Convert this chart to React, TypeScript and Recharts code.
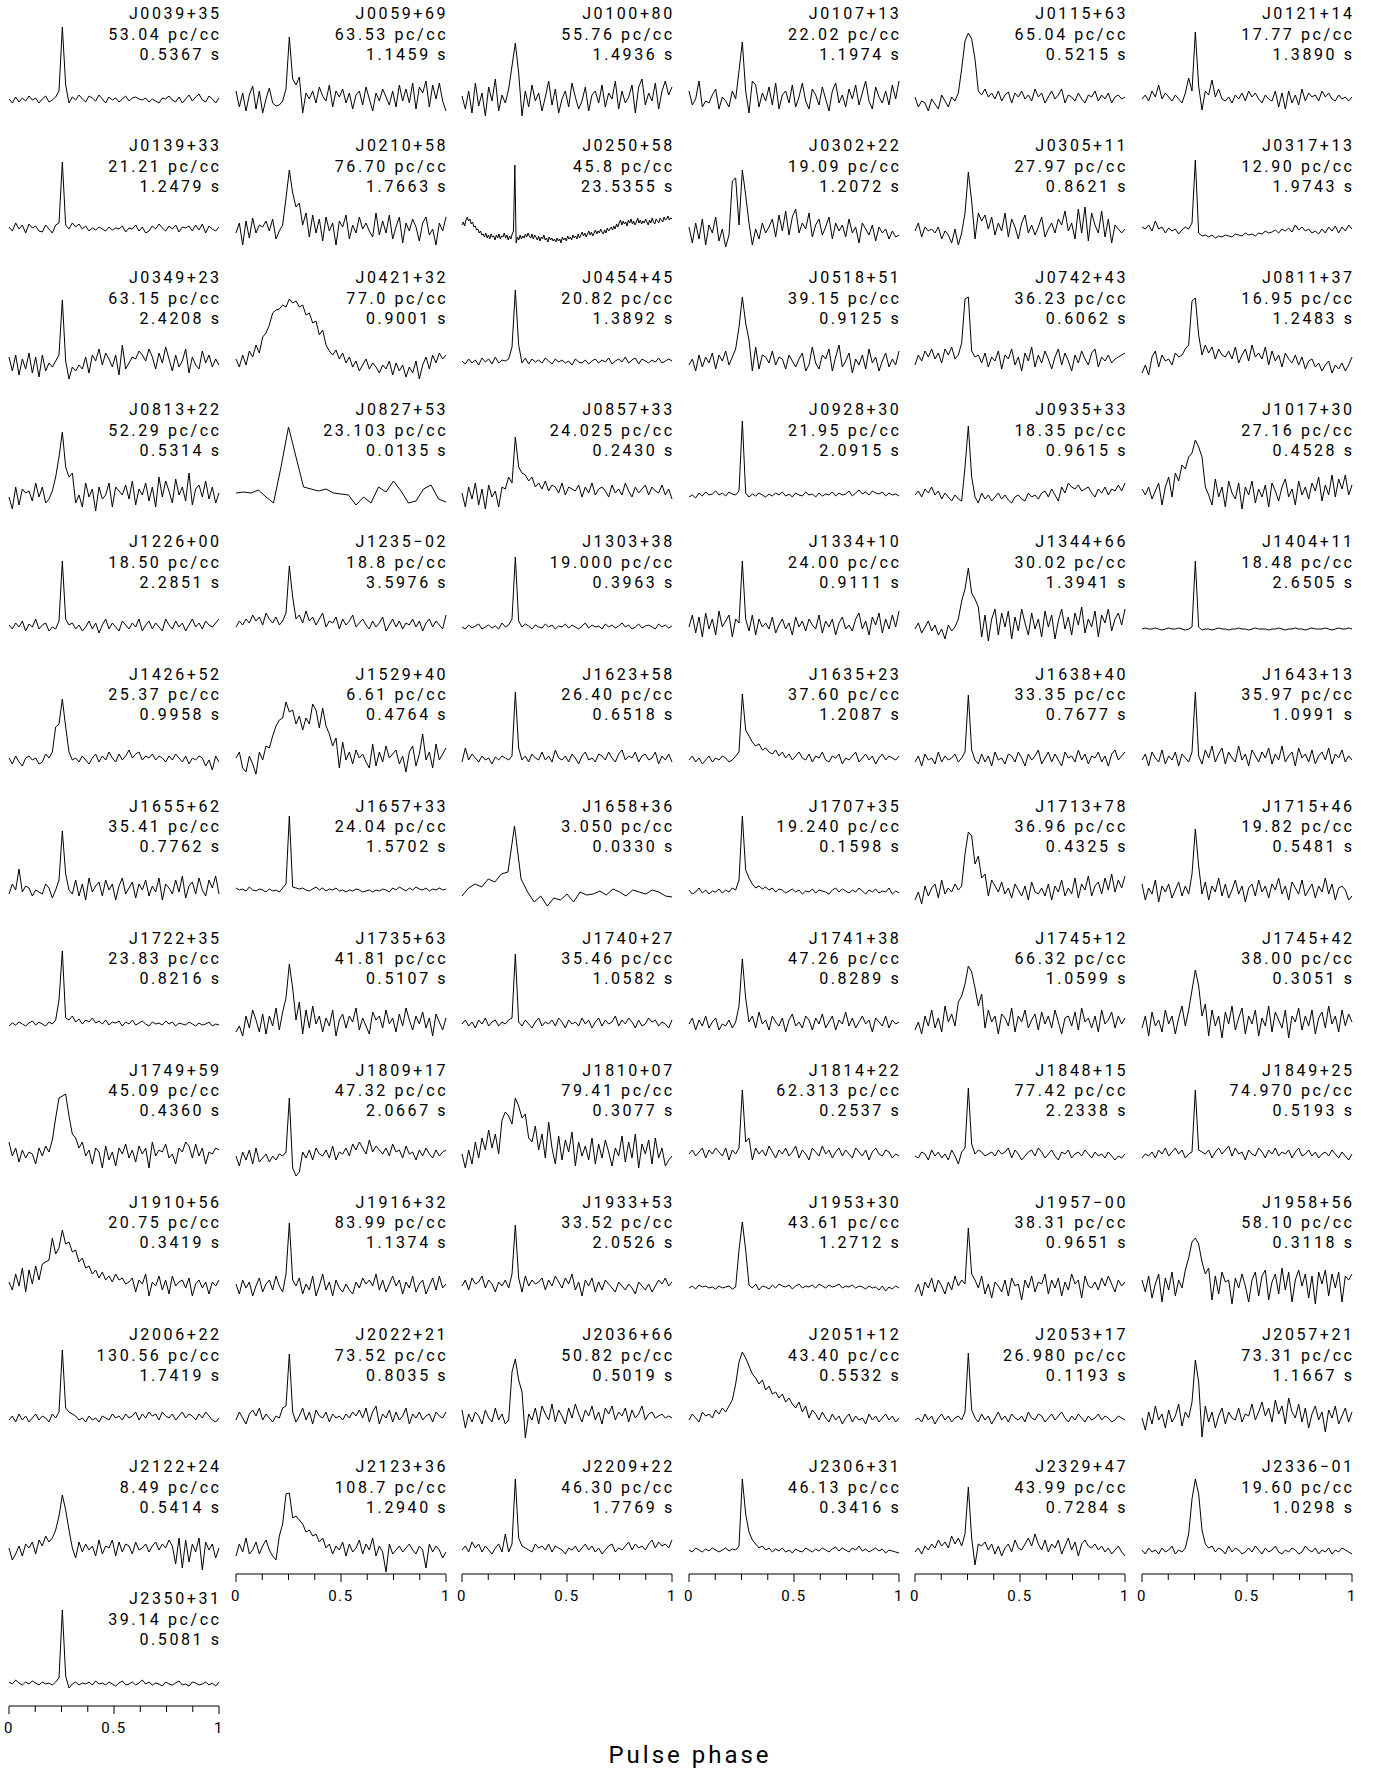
import { LineChart, Line, XAxis, YAxis } from 'recharts';

// pulsar labels, row by row (6 per row)
const names = [
  'J0039+35', 'J0059+69', 'J0100+80', 'J0107+13', 'J0115+63', 'J0121+14',
  'J0139+33', 'J0210+58', 'J0250+58', 'J0302+22', 'J0305+11', 'J0317+13',
  'J0349+23', 'J0421+32', 'J0454+45', 'J0518+51', 'J0742+43', 'J0811+37',
  'J0813+22', 'J0827+53', 'J0857+33', 'J0928+30', 'J0935+33', 'J1017+30',
  'J1226+00', 'J1235\u221202', 'J1303+38', 'J1334+10', 'J1344+66', 'J1404+11',
  'J1426+52', 'J1529+40', 'J1623+58', 'J1635+23', 'J1638+40', 'J1643+13',
  'J1655+62', 'J1657+33', 'J1658+36', 'J1707+35', 'J1713+78', 'J1715+46',
  'J1722+35', 'J1735+63', 'J1740+27', 'J1741+38', 'J1745+12', 'J1745+42',
  'J1749+59', 'J1809+17', 'J1810+07', 'J1814+22', 'J1848+15', 'J1849+25',
  'J1910+56', 'J1916+32', 'J1933+53', 'J1953+30', 'J1957\u221200', 'J1958+56',
  'J2006+22', 'J2022+21', 'J2036+66', 'J2051+12', 'J2053+17', 'J2057+21',
  'J2122+24', 'J2123+36', 'J2209+22', 'J2306+31', 'J2329+47', 'J2336\u221201',
  'J2350+31',
];

const dms = [
  '53.04', '63.53', '55.76', '22.02', '65.04', '17.77',
  '21.21', '76.70', '45.8', '19.09', '27.97', '12.90',
  '63.15', '77.0', '20.82', '39.15', '36.23', '16.95',
  '52.29', '23.103', '24.025', '21.95', '18.35', '27.16',
  '18.50', '18.8', '19.000', '24.00', '30.02', '18.48',
  '25.37', '6.61', '26.40', '37.60', '33.35', '35.97',
  '35.41', '24.04', '3.050', '19.240', '36.96', '19.82',
  '23.83', '41.81', '35.46', '47.26', '66.32', '38.00',
  '45.09', '47.32', '79.41', '62.313', '77.42', '74.970',
  '20.75', '83.99', '33.52', '43.61', '38.31', '58.10',
  '130.56', '73.52', '50.82', '43.40', '26.980', '73.31',
  '8.49', '108.7', '46.30', '46.13', '43.99', '19.60',
  '39.14',
];

const periods = [
  '0.5367', '1.1459', '1.4936', '1.1974', '0.5215', '1.3890',
  '1.2479', '1.7663', '23.5355', '1.2072', '0.8621', '1.9743',
  '2.4208', '0.9001', '1.3892', '0.9125', '0.6062', '1.2483',
  '0.5314', '0.0135', '0.2430', '2.0915', '0.9615', '0.4528',
  '2.2851', '3.5976', '0.3963', '0.9111', '1.3941', '2.6505',
  '0.9958', '0.4764', '0.6518', '1.2087', '0.7677', '1.0991',
  '0.7762', '1.5702', '0.0330', '0.1598', '0.4325', '0.5481',
  '0.8216', '0.5107', '1.0582', '0.8289', '1.0599', '0.3051',
  '0.4360', '2.0667', '0.3077', '0.2537', '2.2338', '0.5193',
  '0.3419', '1.1374', '2.0526', '1.2712', '0.9651', '0.3118',
  '1.7419', '0.8035', '0.5019', '0.5532', '0.1193', '1.1667',
  '0.5414', '1.2940', '1.7769', '0.3416', '0.7284', '1.0298',
  '0.5081',
];

// profile intensities per phase bin (arbitrary units, 0..100)
const pJ0039p35 = [22,18,24,19,23,20,25,21,23,18,22,25,19,21,24,30,94,36,18,24,21,26,22,19,25,23,20,26,22,18,24,21,23,19,22,25,20,23,24,22,21,23,19,22,20,18,23,22,25,21,19,24,18,22,26,20,24,27,21,19,25,22,18,23];
const pJ0059p69 = [30,14,28,10,26,35,12,30,8,22,33,18,15,16,20,32,84,42,36,44,8,28,22,30,18,34,25,20,36,14,30,24,32,18,28,12,26,30,16,34,22,10,28,20,32,24,16,30,14,36,20,32,18,38,12,34,28,40,14,36,22,38,20,10];
const pJ0100p80 = [25,12,30,8,38,15,28,5,34,20,42,10,26,18,32,55,78,48,5,30,14,36,20,28,10,24,40,16,32,8,22,30,14,38,24,12,20,34,10,26,30,18,36,14,28,22,40,12,30,18,24,36,8,34,42,16,28,20,38,12,30,40,26,34];
const pJ0107p13 = [30,16,22,40,14,20,18,26,32,12,24,20,14,30,22,50,79,30,8,40,36,14,28,20,34,16,38,12,26,30,18,36,14,24,38,20,12,32,26,16,34,22,10,30,38,18,26,14,32,22,36,16,28,40,20,12,34,24,18,30,16,36,22,40];
const pJ0115p63 = [24,14,20,18,10,22,17,12,26,20,14,24,20,28,52,80,88,82,62,30,26,32,24,28,22,30,20,26,29,18,28,24,30,22,26,20,32,24,28,18,24,30,22,26,32,18,26,24,20,28,22,18,26,24,30,20,26,22,28,18,24,26,22,24];
const pJ0121p14 = [22,26,20,30,24,36,22,28,24,20,26,22,18,28,43,30,89,35,11,30,26,41,24,32,22,20,24,18,26,22,28,20,30,24,28,22,18,26,22,20,30,14,28,12,30,18,26,16,32,20,28,24,26,20,30,24,28,22,20,26,22,24,20,24];
const pJ0139p33 = [26,22,30,24,28,20,29,25,27,22,21,28,24,20,28,30,91,28,24,30,26,29,24,27,22,25,23,26,24,22,26,23,25,24,27,21,25,24,28,22,26,20,22,27,24,29,25,22,27,24,28,21,26,25,27,22,28,23,29,20,27,24,22,26];
const pJ0210p58 = [20,30,8,32,15,35,20,28,26,32,22,34,14,22,28,55,83,60,46,50,28,40,16,38,20,34,12,36,22,30,8,32,26,38,14,28,20,36,24,30,22,16,40,18,32,20,38,14,26,36,10,30,22,34,26,12,30,36,18,24,8,30,22,36];
const pJ0250p58 = [
  28,31,27,33,36,32,34,29,31,26,27,23,24,20,22,18,
  19,16,20,15,18,14,19,16,17,13,18,15,19,14,17,16,
  20,15,18,13,17,14,19,22,
  88,
  10,16,13,18,14,17,15,19,16,20,17,15,19,14,18,
  16,13,17,12,16,14,18,13,15,11,16,13,15,12,14,11,
  15,12,14,10,16,13,15,12,17,14,16,13,18,15,17,14,
  19,15,18,21,17,20,16,19,22,18,21,17,20,23,19,22,
  20,24,21,19,23,20,25,22,24,26,23,27,24,29,26,30,
  33,28,32,29,31,27,33,30,34,29,32,28,31,35,30,33,
  29,32,30,34,31,28,33,30,35,31,29,34,32,30,35,33,
  31,36,33,34,37,33,35,34,
];
const pJ0302p22 = [26,10,30,14,34,8,28,20,36,12,24,6,18,72,75,28,83,58,30,8,24,14,30,20,26,34,16,38,22,42,18,36,44,20,30,24,40,16,28,34,18,26,36,14,30,22,28,16,34,20,26,10,30,24,18,28,12,26,20,24,14,22,16,18];
const pJ0305p11 = [22,30,16,26,22,24,20,26,14,22,18,10,24,8,20,40,81,52,14,40,32,38,24,36,18,30,22,40,16,34,26,14,30,38,20,28,18,26,36,16,24,30,20,34,28,42,22,30,14,44,20,46,12,40,28,20,42,16,34,10,28,24,20,24];
const pJ0317p13 = [26,24,28,22,32,24,26,20,25,22,24,19,23,26,24,30,93,20,17,18,16,18,15,17,16,18,17,16,19,18,17,20,18,19,17,20,19,22,20,21,23,20,24,22,25,21,28,23,26,22,24,20,22,19,24,20,26,22,27,20,26,22,28,24];
const pJ0349p23 = [28,14,30,10,26,16,32,12,28,8,30,14,22,18,24,30,85,24,6,18,14,20,16,28,12,30,24,36,20,32,26,18,30,10,40,16,22,28,26,34,30,24,36,28,16,32,22,38,26,14,30,18,24,36,12,28,20,16,34,22,30,18,26,20];
const pJ0421p32 = [26,18,30,20,34,28,40,32,48,52,60,72,75,76,80,78,86,82,84,78,80,70,72,62,64,50,55,40,34,30,35,26,32,22,28,18,24,14,20,26,16,22,18,12,20,16,24,10,22,14,20,8,18,12,24,6,20,28,16,30,22,32,26,30];
const pJ0454p45 = [24,21,26,22,25,20,27,23,26,21,28,22,25,24,26,38,95,40,22,27,21,26,23,25,22,27,24,21,26,23,25,22,24,20,26,23,22,25,21,24,26,22,25,23,27,21,24,26,23,28,22,25,27,21,26,24,22,25,23,27,22,24,26,24];
const pJ0518p51 = [20,26,14,30,18,28,22,32,16,30,24,34,20,28,36,58,88,62,45,14,38,16,30,28,22,34,20,28,26,16,30,24,18,26,32,14,20,38,22,16,30,26,36,14,28,40,18,24,32,12,26,20,30,16,36,22,28,14,24,32,18,26,20,34];
const pJ0742p43 = [20,30,24,34,28,36,26,32,22,36,30,38,26,30,42,86,88,34,28,30,22,32,18,28,24,34,16,30,26,36,20,28,14,32,24,38,18,30,22,34,26,16,28,36,20,32,24,14,30,22,34,26,20,32,36,18,28,24,30,22,26,28,30,32];
const pJ0811p37 = [12,20,10,28,34,18,30,24,26,20,32,28,30,36,40,84,87,50,30,40,32,38,26,36,30,28,34,26,38,22,30,36,24,40,28,32,26,38,20,34,24,30,18,32,26,22,30,20,28,16,24,26,18,22,14,20,24,12,20,16,22,14,20,28];
const pJ0813p22 = [20,8,30,12,28,24,26,16,34,20,30,14,18,26,40,60,85,50,40,44,14,22,10,34,20,28,6,30,18,22,34,10,30,26,22,32,18,36,12,28,22,34,16,30,10,40,20,36,26,14,38,22,30,16,44,12,28,32,20,36,18,30,14,24];
const pJ0827p53 = [24,25,24,27,20,14,50,90,60,30,28,26,28,24,23,22,12,20,14,30,25,36,26,14,16,28,32,18,15];
const pJ0857p33 = [24,10,30,18,34,12,28,8,32,20,26,10,30,28,40,34,80,50,44,42,36,40,30,34,28,36,26,32,30,24,34,22,30,28,26,32,20,30,24,34,22,28,30,26,20,32,24,28,22,34,26,20,30,24,28,32,22,30,26,24,32,22,28,18];
const pJ0928p30 = [20,22,19,24,21,25,22,23,26,22,24,21,25,23,22,26,96,24,20,23,21,24,22,20,23,21,24,22,25,21,23,20,24,22,21,25,22,23,20,24,21,23,22,25,21,24,22,23,26,21,24,27,23,25,22,26,24,23,25,21,24,22,23,21];
const pJ0935p33 = [22,26,20,28,24,30,22,26,18,24,20,16,22,18,16,50,91,40,20,14,24,18,22,16,20,24,18,22,17,14,20,22,18,16,24,20,22,18,24,26,20,28,22,16,30,24,34,30,28,32,26,28,30,24,20,28,24,30,22,28,26,32,26,34];
const pJ1017p30 = [28,22,30,18,26,34,12,30,40,20,44,36,52,48,60,64,77,70,60,30,22,12,38,20,30,10,36,24,18,34,8,30,22,36,14,28,20,32,10,34,26,16,30,38,20,28,12,36,22,30,18,34,26,40,16,32,22,42,20,38,28,42,22,32];
const pJ1226p00 = [24,20,26,22,28,18,25,22,30,20,24,26,18,22,20,28,88,30,24,26,20,24,18,22,28,20,26,16,24,30,20,26,22,18,28,24,20,26,22,30,18,24,28,20,26,22,18,30,24,20,28,22,26,18,24,30,22,26,20,28,24,22,26,30];
const pJ1235m02 = [22,28,24,30,26,34,28,32,24,36,30,26,32,24,28,36,83,52,30,34,26,38,28,32,24,30,36,22,28,26,32,20,30,24,28,34,22,26,30,24,20,28,22,26,32,18,24,30,22,28,20,26,24,30,22,28,18,26,30,22,28,24,20,34];
const pJ1303p38 = [22,20,24,21,23,25,20,22,24,21,23,20,26,22,24,30,92,28,22,25,23,20,24,22,21,25,22,24,20,23,22,25,21,24,22,20,23,26,21,24,22,23,20,25,22,24,21,23,26,22,24,20,22,25,21,23,24,22,20,25,22,24,21,23];
const pJ1334p10 = [22,34,16,32,12,36,20,30,14,38,22,28,34,12,30,26,88,30,18,34,14,30,22,26,20,32,16,24,30,20,26,14,32,22,28,18,30,24,20,34,16,28,22,30,14,26,32,20,24,18,30,36,20,28,14,32,24,36,16,30,20,34,22,38];
const pJ1344p66 = [20,26,16,22,28,18,24,14,20,10,24,18,22,30,48,60,81,56,50,42,12,34,8,30,40,14,36,22,38,10,32,18,40,26,14,36,20,30,12,38,22,34,10,28,40,20,32,14,36,24,42,16,30,22,38,12,34,26,40,18,30,36,24,40];
const pJ1404p11 = [20,21,20,20,21,20,19,20,21,20,20,21,20,19,20,22,88,22,19,20,20,19,20,21,20,20,19,20,20,21,20,20,19,20,21,20,20,20,19,20,20,21,20,19,20,20,21,20,20,19,20,21,20,20,20,21,20,19,20,21,20,20,21,20];
const pJ1426p52 = [24,18,26,20,16,24,26,22,24,18,20,28,24,30,55,58,83,55,30,22,24,20,26,22,18,24,28,20,26,22,30,24,20,28,22,26,32,24,28,30,22,26,24,28,22,26,24,20,26,22,28,24,20,26,18,24,22,26,24,16,22,12,26,20];
const pJ1529p40 = [24,30,14,10,26,18,8,30,22,36,34,46,56,62,64,80,70,72,58,66,52,64,58,78,72,54,74,56,48,36,44,14,40,22,30,18,32,24,28,20,14,38,16,30,20,36,24,28,32,18,26,10,30,36,16,28,48,22,30,14,38,22,28,34];
const pJ1623p58 = [20,34,22,28,24,20,26,22,24,18,25,22,26,24,22,26,90,34,22,26,20,28,24,22,30,22,26,20,32,24,22,26,20,28,24,18,26,30,22,24,20,28,26,22,30,24,20,28,32,22,26,24,30,20,26,28,22,24,30,18,26,22,28,20];
const pJ1635p23 = [22,26,20,24,18,22,26,20,24,22,26,24,20,22,26,30,88,52,46,40,36,38,32,34,30,28,32,26,30,24,28,22,26,30,24,22,28,20,26,24,30,22,20,26,24,28,18,24,22,26,30,20,24,28,22,26,18,24,28,22,26,24,22,26];
const pJ1638p40 = [20,26,16,28,22,24,18,30,20,26,22,24,28,20,24,30,87,32,22,18,28,20,26,16,30,22,24,18,28,26,20,30,24,16,28,22,26,32,18,24,30,20,28,22,16,30,24,26,20,32,22,28,18,26,24,30,20,26,16,28,32,22,26,30];
const pJ1643p13 = [22,28,16,30,24,20,32,18,26,22,30,16,28,24,20,30,90,26,18,32,24,36,20,28,34,18,30,24,20,36,22,28,16,32,26,20,30,24,34,18,28,22,36,20,26,30,16,34,24,28,20,32,18,26,30,22,34,18,28,24,32,20,26,22];
const pJ1655p62 = [20,30,24,45,22,28,26,18,24,22,20,30,26,16,24,34,83,40,24,20,34,18,30,14,36,22,28,32,18,34,24,30,14,28,36,20,26,32,16,30,24,34,18,28,22,36,14,30,26,20,34,22,38,16,28,32,20,36,24,18,34,26,38,20];
const pJ1657p33 = [26,24,25,23,27,24,23,25,24,22,25,23,24,22,26,30,98,27,26,25,26,24,23,25,27,24,26,23,25,24,26,23,24,22,24,23,25,24,22,23,24,22,24,23,25,24,22,26,24,27,25,23,26,24,27,25,24,26,23,25,24,26,24,25];
const pJ1658p36 = [18,26,30,27,35,32,40,42,88,35,22,12,18,8,16,14,20,12,22,19,20,23,19,25,22,18,24,22,20,24,22,18,17];
const pJ1707p35 = [24,20,22,26,21,24,20,23,22,25,21,24,22,26,24,34,98,44,36,30,26,28,25,27,24,26,22,25,24,21,23,25,22,24,20,23,22,25,21,24,23,22,20,24,26,22,25,23,21,24,22,26,23,20,24,22,25,21,23,22,26,20,23,21];
const pJ1713p78 = [14,22,10,28,18,26,30,16,34,20,26,22,30,24,28,60,82,78,50,58,36,40,18,34,28,22,32,20,26,16,30,24,18,28,14,32,22,20,26,18,30,14,28,22,34,18,26,20,36,16,30,24,38,18,28,32,20,36,24,40,22,34,26,38];
const pJ1715p46 = [30,14,26,20,34,12,28,22,30,16,24,32,18,28,20,40,85,48,20,32,14,28,22,36,18,30,16,24,34,20,28,12,26,30,18,34,22,28,16,30,24,36,20,28,14,32,26,20,34,18,24,30,16,28,22,36,20,30,14,26,28,24,14,18];
const pJ1722p35 = [20,23,21,24,22,20,23,25,21,24,22,20,24,22,26,46,95,28,26,30,24,27,22,26,24,28,23,25,22,26,21,24,23,25,20,24,22,26,21,23,25,22,20,24,22,23,21,25,22,24,20,23,22,21,24,22,20,23,21,22,24,20,22,21];
const pJ1735p63 = [14,20,10,30,18,36,26,14,32,12,30,20,38,16,34,48,82,58,26,44,12,36,18,40,22,30,14,28,20,36,10,26,32,18,30,24,38,16,28,20,12,34,26,30,18,36,22,28,14,32,20,38,26,16,30,22,34,18,28,10,32,24,16,28];
const pJ1740p27 = [22,26,20,24,18,26,22,28,20,24,26,20,24,22,26,28,92,24,20,26,22,18,24,28,20,24,22,26,20,28,24,18,26,22,24,20,28,22,26,18,24,28,20,26,22,24,30,20,26,22,28,24,18,26,20,22,28,24,26,20,24,22,18,26];
const pJ1741p38 = [22,28,16,26,20,30,18,24,28,16,22,20,26,18,24,40,87,48,24,30,18,34,22,26,16,30,24,20,28,14,26,32,20,24,18,30,26,16,28,22,32,18,24,30,16,26,22,34,20,28,18,24,30,22,26,14,28,24,20,30,18,26,22,24];
const pJ1745p12 = [16,24,12,30,20,36,18,28,14,40,24,32,20,44,50,62,80,74,58,40,52,18,36,24,30,12,32,28,20,38,14,30,24,36,18,26,32,16,34,22,30,18,36,24,12,28,30,20,34,16,38,24,28,18,30,14,36,22,26,34,18,30,22,28];
const pJ1745p42 = [18,30,10,34,20,26,14,36,22,30,12,28,40,20,36,56,76,60,30,42,10,36,20,30,8,34,22,40,16,28,38,12,30,22,36,10,28,20,40,14,34,26,18,36,8,30,24,38,16,30,20,36,12,28,34,18,40,22,30,14,36,20,32,24];
const pJ1749p59 = [36,22,30,16,28,20,26,24,14,30,22,32,26,38,60,80,82,84,62,44,40,30,36,22,28,14,30,26,10,32,18,26,12,30,24,34,20,28,16,32,24,30,10,36,22,28,26,34,20,24,14,30,26,36,32,20,34,22,30,14,26,24,30,28];
const pJ1809p17 = [22,12,26,18,28,14,30,16,20,24,16,22,18,24,22,26,80,10,2,6,26,20,28,18,30,24,22,28,20,32,18,26,24,30,22,34,28,36,30,24,38,26,32,28,24,30,22,34,26,28,20,32,24,26,18,28,22,30,24,20,28,22,26,28];
const pJ1810p07 = [24,10,28,14,36,20,40,28,48,30,44,24,58,66,62,54,80,72,60,64,40,36,52,28,44,20,56,30,14,42,18,38,26,46,12,36,22,32,18,40,14,34,20,38,26,12,30,22,42,16,36,20,44,10,34,24,38,14,40,20,30,12,18,22];
const pJ1814p22 = [24,28,22,26,30,20,28,24,30,26,22,30,18,28,24,30,88,36,40,18,30,24,28,22,32,26,20,28,24,30,22,26,32,20,28,24,18,30,26,22,32,24,28,20,26,30,22,28,24,20,30,26,22,28,18,26,30,24,22,28,26,20,24,22];
const pJ1848p15 = [22,20,26,24,18,28,22,26,20,24,18,28,22,14,26,30,90,34,24,28,26,22,24,26,22,28,24,26,30,20,28,24,18,22,26,28,22,30,26,20,24,28,22,18,26,24,28,20,24,26,22,28,24,20,26,22,24,20,26,22,18,22,20,24];
const pJ1849p25 = [20,24,22,26,20,28,24,30,22,26,30,24,28,20,24,26,88,28,26,24,28,20,26,30,24,28,32,22,30,24,26,18,28,24,22,30,26,20,28,24,30,22,26,24,28,20,26,30,22,24,28,22,26,20,24,26,22,28,24,20,26,22,18,24];
const pJ1910p56 = [28,20,36,24,42,18,40,26,44,30,46,48,50,72,56,62,80,66,68,58,60,48,52,42,44,36,40,32,38,30,34,28,36,30,32,26,28,32,18,30,26,36,14,28,24,34,20,30,16,34,24,28,30,22,32,14,26,30,22,28,16,28,24,30];
const pJ1916p32 = [26,16,30,22,28,14,24,32,18,26,30,20,34,24,18,36,87,30,24,32,16,26,20,34,14,24,36,20,28,14,30,22,18,26,20,16,28,22,32,26,30,24,36,20,30,18,26,34,24,30,16,28,22,34,18,26,30,16,24,32,20,34,22,26];
const pJ1933p53 = [24,30,20,32,26,28,34,22,30,26,18,28,24,30,22,36,85,32,18,34,24,30,26,28,32,20,30,24,34,28,22,32,26,36,20,28,14,30,24,32,18,28,20,30,26,22,18,28,24,20,26,22,16,28,24,20,26,18,24,30,26,32,24,28];
const pJ1953p30 = [22,24,21,25,23,24,22,23,21,24,22,23,24,21,23,60,88,60,25,22,26,20,24,23,21,25,22,26,24,23,25,21,24,26,22,24,23,25,22,26,24,22,25,23,24,26,22,24,23,25,22,24,23,21,24,22,23,20,24,19,23,21,24,22];
const pJ1957m00 = [18,26,14,28,22,32,18,30,24,16,28,20,34,24,30,26,82,36,30,22,34,16,26,12,28,24,18,30,14,32,24,26,10,30,22,34,18,28,26,36,16,30,22,32,14,28,20,36,26,30,12,34,24,22,28,20,32,24,34,26,18,30,24,28];
const pJ1958p56 = [30,18,34,12,26,36,8,32,20,38,14,30,22,40,52,68,72,66,48,36,42,10,34,16,38,28,30,6,32,22,36,24,8,30,38,14,34,40,10,28,36,16,42,20,38,8,30,40,24,36,12,34,6,38,26,40,14,36,22,38,8,34,30,36];
const pJ2006p22 = [22,26,20,28,22,26,20,24,28,22,26,24,20,28,24,30,92,34,30,28,26,22,24,20,26,22,24,20,26,24,22,28,24,26,22,28,24,26,30,22,28,24,30,26,28,22,30,26,24,28,22,26,30,24,28,26,22,28,24,30,26,22,20,24];
const pJ2022p21 = [22,30,24,18,28,32,26,34,22,28,24,20,26,24,34,36,88,30,20,26,34,22,30,18,32,26,24,30,20,28,24,26,22,28,24,30,26,32,24,34,20,30,36,18,28,24,32,20,30,22,26,34,18,28,24,30,22,26,28,20,30,26,24,30];
const pJ2036p66 = [32,14,28,20,30,26,18,32,24,20,34,22,28,18,22,70,83,62,50,4,28,22,34,18,36,28,22,38,20,32,26,18,34,24,38,28,20,32,26,36,22,30,18,34,28,36,22,30,26,34,20,32,24,28,36,22,28,30,24,26,28,24,26,24];
const pJ2051p12 = [22,28,24,20,30,26,28,24,32,28,34,30,36,42,58,80,90,84,76,68,64,58,62,52,56,48,50,44,48,40,44,38,34,40,30,36,24,32,28,22,30,24,20,28,22,26,18,24,28,20,26,22,24,18,28,22,26,20,24,28,22,26,20,24];
const pJ2053p17 = [22,24,20,28,22,26,18,24,28,22,26,20,24,26,22,30,89,32,24,20,28,22,26,18,24,30,22,26,20,28,24,22,26,20,30,24,22,28,26,20,24,28,22,26,30,24,20,26,22,28,24,20,26,22,24,28,22,26,24,20,22,26,24,22];
const pJ2057p21 = [24,12,30,18,36,22,28,14,32,20,26,38,16,30,24,40,82,60,5,36,20,30,14,26,34,18,30,24,22,34,20,28,26,38,22,30,40,26,34,20,42,28,36,18,44,30,24,38,20,34,14,28,36,22,30,10,32,24,36,18,26,34,20,30];
const pJ2122p24 = [26,14,20,28,18,30,26,32,20,34,28,38,32,36,44,58,79,64,44,26,16,32,22,30,24,28,18,34,20,28,26,34,18,32,22,30,28,20,32,24,26,30,22,28,32,24,30,26,34,28,10,36,6,34,12,30,22,36,4,32,24,30,16,26];
const pJ2123p36 = [18,30,22,36,20,24,32,20,28,34,24,18,14,38,50,80,81,56,58,54,50,42,44,38,40,32,36,26,30,20,28,24,32,18,30,22,26,34,20,30,24,36,18,28,22,2,30,20,24,28,22,26,30,24,20,28,24,6,30,22,28,24,16,22];
const pJ2209p22 = [24,28,22,32,26,30,22,28,24,20,26,30,22,40,22,30,95,36,28,26,24,22,30,26,28,24,30,22,28,26,24,20,26,24,28,22,26,30,24,28,22,26,20,24,28,30,22,26,24,28,32,24,30,26,28,24,30,34,26,32,28,30,26,34];
const pJ2306p31 = [24,22,26,24,22,25,23,26,24,22,24,26,23,25,24,28,95,60,42,34,30,26,28,24,26,22,25,23,26,22,24,21,25,23,22,26,24,22,25,23,26,24,22,25,27,23,26,24,22,26,24,28,23,25,22,24,26,23,25,21,24,23,22,21];
const pJ2329p47 = [22,26,20,28,24,30,26,34,28,32,26,38,30,36,28,40,87,36,9,30,28,32,24,30,20,28,18,26,30,22,34,26,24,30,36,28,40,30,24,34,22,30,26,34,20,28,36,24,32,18,30,34,28,26,30,24,28,22,26,20,24,28,22,18];
const pJ2336m01 = [24,20,26,22,24,20,26,22,24,28,20,24,22,26,40,75,95,80,44,30,26,28,22,26,24,20,28,22,26,24,20,22,26,22,28,24,20,26,22,24,28,22,20,24,22,26,24,20,22,28,24,22,26,20,24,22,26,20,24,22,26,24,22,20];
const pJ2350p31 = [24,22,26,23,21,24,22,25,23,21,24,22,23,21,24,28,96,30,18,22,24,21,23,22,24,21,25,22,23,21,24,22,20,23,25,21,22,24,21,23,26,22,24,21,23,22,20,24,22,21,23,25,21,22,20,24,23,21,22,24,21,23,20,24];

const profiles = [
  pJ0039p35, pJ0059p69, pJ0100p80, pJ0107p13, pJ0115p63, pJ0121p14,
  pJ0139p33, pJ0210p58, pJ0250p58, pJ0302p22, pJ0305p11, pJ0317p13,
  pJ0349p23, pJ0421p32, pJ0454p45, pJ0518p51, pJ0742p43, pJ0811p37,
  pJ0813p22, pJ0827p53, pJ0857p33, pJ0928p30, pJ0935p33, pJ1017p30,
  pJ1226p00, pJ1235m02, pJ1303p38, pJ1334p10, pJ1344p66, pJ1404p11,
  pJ1426p52, pJ1529p40, pJ1623p58, pJ1635p23, pJ1638p40, pJ1643p13,
  pJ1655p62, pJ1657p33, pJ1658p36, pJ1707p35, pJ1713p78, pJ1715p46,
  pJ1722p35, pJ1735p63, pJ1740p27, pJ1741p38, pJ1745p12, pJ1745p42,
  pJ1749p59, pJ1809p17, pJ1810p07, pJ1814p22, pJ1848p15, pJ1849p25,
  pJ1910p56, pJ1916p32, pJ1933p53, pJ1953p30, pJ1957m00, pJ1958p56,
  pJ2006p22, pJ2022p21, pJ2036p66, pJ2051p12, pJ2053p17, pJ2057p21,
  pJ2122p24, pJ2123p36, pJ2209p22, pJ2306p31, pJ2329p47, pJ2336m01,
  pJ2350p31,
];

const phaseTicks = [0, 0.125, 0.25, 0.375, 0.5, 0.625, 0.75, 0.875, 1];
const majorTicks = [0, 0.5, 1];

const FONT = 'Roboto, "DejaVu Sans", sans-serif';
const COLS = 6;
const COL_STEP = 226.6;
const ROW_STEP = 132.1;
const LEFT0 = 9;
const PW = 210;
const LS = 2.6; // letter spacing of the panel captions

function PhaseTick({ x, y, payload }: any) {
  const v = payload.value;
  const major = majorTicks.includes(v);
  return (
    <g>
      <line x1={x} y1={y} x2={x} y2={y + (major ? 8 : 6)} stroke="#000" strokeWidth={1} />
      {major && (
        <text x={x} y={y + 27} textAnchor="middle" fontFamily={FONT} fontWeight={400}
          fontSize={15} letterSpacing={1.5} fill="#000">
          {String(v)}
        </text>
      )}
    </g>
  );
}

function Panel({ idx }: { idx: number }) {
  const row = Math.floor(idx / COLS);
  const col = idx % COLS;
  const left = LEFT0 + col * COL_STEP;
  const top = row * ROW_STEP + 21;
  const values = profiles[idx];
  const data = values.map((v, i) => ({ phase: i / (values.length - 1), v }));
  const showAxis = row === 12 || (row === 11 && col > 0);
  return (
    <div style={{ position: 'absolute', left, top }}>
      <LineChart width={PW} height={showAxis ? 140 : 100} data={data}
        margin={{ top: 0, right: 0, bottom: 0, left: 0 }}>
        <XAxis dataKey="phase" type="number" domain={[0, 1]} ticks={phaseTicks} interval={0}
          hide={!showAxis} height={40} tickSize={0} tickMargin={0} tickLine={false}
          axisLine={{ stroke: '#000', strokeWidth: 1 }} tick={<PhaseTick />} />
        <YAxis domain={[0, 100]} hide allowDataOverflow />
        <Line type="linear" dataKey="v" stroke="#000" strokeWidth={1} dot={false}
          isAnimationActive={false} />
      </LineChart>
    </div>
  );
}

export default function App() {
  return (
    <div style={{ position: 'absolute', left: 0, top: 0, width: 1381, height: 1771, background: '#fff' }}>
      <style>{`.recharts-surface{overflow:visible}`}</style>
      {names.map((_, i) => <Panel key={i} idx={i} />)}
      <svg width={1381} height={1771} style={{ position: 'absolute', left: 0, top: 0, pointerEvents: 'none' }}>
        {names.map((name, i) => {
          const row = Math.floor(i / COLS);
          const col = i % COLS;
          const right = LEFT0 + col * COL_STEP + PW + LS;
          const top = row * ROW_STEP;
          return (
            <g key={name + i} fontFamily={FONT} fontWeight={400} fontSize={16} letterSpacing={LS} fill="#000" textAnchor="end">
              <text x={right} y={top + 19}>{name}</text>
              <text x={right} y={top + 39.5}>{dms[i] + ' pc/cc'}</text>
              <text x={right} y={top + 59.5}>{periods[i] + ' s'}</text>
            </g>
          );
        })}
        <text x={690} y={1763} textAnchor="middle" fontFamily={FONT} fontWeight={400}
          fontSize={24} letterSpacing={3} fill="#000">Pulse phase</text>
      </svg>
    </div>
  );
}
